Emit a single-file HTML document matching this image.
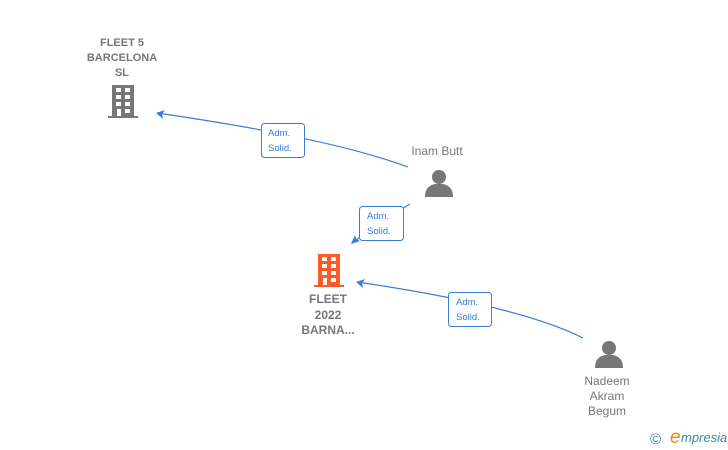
<!DOCTYPE html><html><head><style>body{margin:0;background:#fff}svg{display:block}text{font-family:"Liberation Sans",sans-serif}</style></head><body>
<svg width="728" height="450" viewBox="0 0 728 450" xmlns="http://www.w3.org/2000/svg">
<defs>
<g id="bld"><rect x="4" y="0" width="22" height="31"/><rect x="0" y="31" width="30" height="2"/>
<g fill="#fff"><rect x="8" y="3" width="5" height="4"/><rect x="17" y="3" width="5" height="4"/><rect x="8" y="10" width="5" height="4"/><rect x="17" y="10" width="5" height="4"/><rect x="8" y="17" width="5" height="4"/><rect x="17" y="17" width="5" height="4"/><rect x="9" y="24" width="4" height="7"/><rect x="17" y="24" width="5" height="4"/></g></g>
<g id="per"><circle cx="14" cy="8" r="7"/><path d="M0 28 C0 18 6 16 10 15 L18 15 C22 16 28 18 28 28 Z"/></g>
</defs>
<g fill="#777"><use href="#bld" x="108" y="85"/></g>
<g fill="#ff5a28"><use href="#bld" x="314" y="254"/></g>
<g fill="#777"><use href="#per" x="425" y="169"/><use href="#per" x="595" y="340"/></g>
<g stroke="#3a7bdc" stroke-width="1.2" fill="none">
<path d="M408 167 Q330 138 157 113"/>
<path d="M410 204 Q380 222 352 243"/>
<path d="M583 338 Q520 306 357 282"/>
</g>
<g fill="#3a7bdc">
<path d="M156 113 L165 110 L162 114 L163 119 Z"/>
<path d="M351 244 L355 235 L356 239 L360 241 Z"/>
<path d="M356 282 L365 279 L362 283 L363 288 Z"/>
</g>
<g fill="#fff" stroke="#3a7bdc" stroke-width="1">
<rect x="261.5" y="123.5" width="43" height="34" rx="3"/>
<rect x="359.5" y="206.5" width="44" height="34" rx="3"/>
<rect x="448.5" y="292.5" width="43" height="34" rx="3"/>
</g>
<g fill="#3a7bdc" font-size="9.5">
<text x="268" y="136">Adm.</text><text x="268" y="151">Solid.</text>
<text x="367" y="219">Adm.</text><text x="367" y="234">Solid.</text>
<text x="456" y="305">Adm.</text><text x="456" y="320">Solid.</text>
</g>
<g fill="#777" font-size="11" text-anchor="middle">
<text x="122" y="46" font-weight="bold">FLEET 5</text><text x="122" y="61" font-weight="bold">BARCELONA</text><text x="122" y="76" font-weight="bold">SL</text>
<text x="328" y="303" font-weight="bold" font-size="12">FLEET</text><text x="328" y="319" font-weight="bold" font-size="12">2022</text><text x="328" y="334" font-weight="bold" font-size="12">BARNA...</text>
<text x="437" y="155" font-size="12">Inam Butt</text>
<text x="607" y="385" font-size="12">Nadeem</text><text x="607" y="400" font-size="12">Akram</text><text x="607" y="415" font-size="12">Begum</text>
</g>
<text x="650" y="444" fill="#3a8aa0" font-size="15">©</text>
<text x="670" y="443" fill="#f08a00" font-size="19" font-family="Liberation Serif" font-style="italic">e</text>
<text x="681" y="442" fill="#3a8aa0" font-size="13" font-style="italic" font-family="Liberation Serif">mpresia</text>
</svg></body></html>
